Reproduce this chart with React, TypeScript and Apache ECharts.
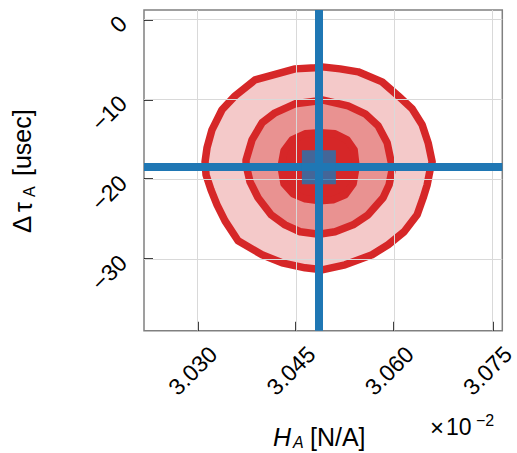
import React, { useEffect, useRef } from "react";
import * as echarts from "echarts";

// Axis ticks (H_A in units of 1e-2, Δτ_A in usec)
const xTicks = [3.03, 3.045, 3.06, 3.075];
const yTicks = [0, -10, -20, -30];

// Crosshair / true value
const truthX = 3.0485;
const truthY = -18.5;

// Contours (outer, middle, inner)
const outerX = [3.04792, 3.04899, 3.05174, 3.05449, 3.05815, 3.0606, 3.06273, 3.06426, 3.06518, 3.06579, 3.06548, 3.06503, 3.06442, 3.0635, 3.06151, 3.05907, 3.05662, 3.0525, 3.04899, 3.04639, 3.04288, 3.03982, 3.03616, 3.03417, 3.03295, 3.03203, 3.03127, 3.03112, 3.03142, 3.03218, 3.03371, 3.0357, 3.03875, 3.04181, 3.04486];
const outerY = [-6.05, -5.93, -6.18, -6.55, -7.81, -9.56, -11.19, -13.19, -15.45, -17.83, -18.83, -20.71, -22.34, -24.47, -26.6, -28.23, -29.48, -30.74, -31.37, -31.12, -30.49, -29.48, -27.73, -25.23, -23.22, -21.34, -19.46, -17.83, -16.08, -13.82, -11.31, -9.56, -7.56, -6.87, -6.18];

const middleX = [3.04792, 3.04899, 3.05296, 3.05556, 3.05754, 3.05892, 3.05953, 3.05968, 3.05922, 3.0583, 3.05601, 3.05372, 3.05097, 3.04899, 3.04792, 3.04563, 3.04333, 3.0412, 3.03921, 3.03799, 3.03738, 3.03738, 3.03829, 3.03982, 3.04181, 3.04486];
const middleY = [-10.25, -10.06, -10.81, -11.82, -13.32, -15.45, -17.83, -18.83, -20.71, -22.34, -24.47, -25.73, -26.6, -26.85, -26.85, -26.6, -25.73, -24.47, -22.34, -20.34, -18.21, -17.6, -15.08, -12.94, -11.69, -10.56];

const innerX = [3.04868, 3.05097, 3.05281, 3.05388, 3.05418, 3.05372, 3.0525, 3.05067, 3.04868, 3.04639, 3.04456, 3.04318, 3.04272, 3.04318, 3.0444, 3.04639];
const innerY = [-14.2, -14.32, -15.08, -16.33, -18.46, -20.59, -21.97, -22.59, -22.72, -22.47, -21.84, -20.59, -18.46, -16.45, -15.08, -14.32];

const contourFills = ["#f4c9c9", "#e99291", "#d62728"];
const contourXs = [outerX, middleX, innerX];
const contourYs = [outerY, middleY, innerY];

const FONT = "Liberation Sans, Arial, Helvetica, sans-serif";

const fmtY = (v: number) => (v < 0 ? "\u2212" + Math.abs(v) : String(v));

export default function App() {
  const ref = useRef<HTMLDivElement>(null);
  useEffect(() => {
    if (!ref.current) return;
    const chart = echarts.init(ref.current, null, { renderer: "svg" });
    chart.setOption({
      animation: false,
      backgroundColor: "#ffffff",
      grid: {
        left: 144,
        top: 10,
        right: 14.7,
        bottom: 122.3,
        show: true,
        borderColor: "#808080",
        borderWidth: 1.5,
        backgroundColor: "transparent",
        containLabel: false,
        outerBoundsMode: "none",
      },
      xAxis: {
        type: "value",
        min: 3.0218,
        max: 3.0765,
        axisLine: { show: false, onZero: false },
        splitLine: { show: false },
        axisTick: {
          show: true,
          inside: true,
          length: 9,
          customValues: xTicks,
          lineStyle: { color: "#000", width: 1.5 },
        },
        axisLabel: {
          customValues: xTicks,
          formatter: (v: number) => v.toFixed(3),
          rotate: 45,
          align: "center",
          verticalAlign: "middle",
          padding: [0, 14, 0, 0],
          margin: 35,
          fontSize: 23,
          fontFamily: FONT,
          color: "#000",
          hideOverlap: false,
        },
      },
      yAxis: {
        type: "value",
        min: -39,
        max: 1.2,
        axisLine: { show: false, onZero: false },
        splitLine: { show: false },
        axisTick: {
          show: true,
          inside: true,
          length: 9,
          customValues: yTicks,
          lineStyle: { color: "#000", width: 1.5 },
        },
        axisLabel: {
          customValues: yTicks,
          formatter: fmtY,
          rotate: 45,
          align: "right",
          verticalAlign: "middle",
          margin: 21,
          fontSize: 23,
          fontFamily: FONT,
          color: "#000",
          hideOverlap: false,
        },
      },
      series: [
        {
          type: "scatter",
          data: [[truthX, truthY]],
          symbolSize: 0,
          silent: true,
          z: 1,
          markLine: {
            silent: true,
            precision: 6,
            symbol: ["none", "none"],
            label: { show: false },
            lineStyle: { color: "#d9d9d9", width: 1, type: "solid" },
            data: [
              ...xTicks.map((v) => ({ xAxis: v })),
              ...yTicks.map((v) => ({ yAxis: v })),
            ],
          },
        },
        {
          type: "custom",
          z: 3,
          silent: true,
          data: contourXs.map((_, i) => [truthX, truthY, i]),
          encode: { x: 0, y: 1 },
          renderItem: (params: any, api: any) => {
            const i = params.dataIndex;
            const xs = contourXs[i];
            const ys = contourYs[i];
            const points = xs.map((x, k) => api.coord([x, ys[k]]));
            return {
              type: "polygon",
              shape: { points },
              style: {
                fill: contourFills[i],
                stroke: "#d62728",
                lineWidth: 7.5,
                lineJoin: "round",
              },
            };
          },
        },
        {
          type: "scatter",
          data: [[truthX, truthY]],
          symbol: "rect",
          symbolSize: 34,
          itemStyle: { color: "#1f77b4" },
          silent: true,
          z: 6,
          markLine: {
            silent: true,
            precision: 6,
            symbol: ["none", "none"],
            label: { show: false },
            lineStyle: { color: "#1f77b4", width: 8, type: "solid" },
            data: [{ xAxis: truthX }, { yAxis: truthY }],
          },
        },
      ],
      graphic: [
        // x axis title: H_A [N/A]
        {
          type: "text",
          left: 273,
          top: 424,
          style: { text: "H", fontSize: 25, fontStyle: "italic", fontFamily: FONT, fill: "#000" },
        },
        {
          type: "text",
          left: 293,
          top: 434,
          style: { text: "A", fontSize: 16, fontStyle: "italic", fontFamily: FONT, fill: "#000" },
        },
        {
          type: "text",
          left: 310,
          top: 424,
          style: { text: "[N/A]", fontSize: 25, fontFamily: FONT, fill: "#000" },
        },
        // offset text ×10^-2
        {
          type: "text",
          left: 430,
          top: 415,
          style: { text: "×", fontSize: 24, fontFamily: FONT, fill: "#000" },
        },
        {
          type: "text",
          left: 446,
          top: 415,
          style: { text: "10", fontSize: 23, fontFamily: FONT, fill: "#000" },
        },
        {
          type: "text",
          left: 476,
          top: 412,
          style: { text: "\u22122", fontSize: 16, fontFamily: FONT, fill: "#000" },
        },
        // y axis title: Δτ_A [usec], rotated
        {
          type: "group",
          x: 22,
          y: 233,
          rotation: Math.PI / 2,
          children: [
            {
              type: "text",
              x: 0,
              y: 0,
              style: {
                text: "Δ",
                fontSize: 26,
                fontFamily: FONT,
                fill: "#000",
                textAlign: "left",
                textVerticalAlign: "middle",
              },
            },
            {
              type: "text",
              x: 21,
              y: 1,
              style: {
                text: "τ",
                fontSize: 25,
                fontFamily: FONT,
                fill: "#000",
                textAlign: "left",
                textVerticalAlign: "middle",
              },
            },
            {
              type: "text",
              x: 36,
              y: 7,
              style: {
                text: "A",
                fontSize: 16,
                fontFamily: FONT,
                fill: "#000",
                textAlign: "left",
                textVerticalAlign: "middle",
              },
            },
            {
              type: "text",
              x: 57,
              y: 0,
              style: {
                text: "[usec]",
                fontSize: 25,
                fontFamily: FONT,
                fill: "#000",
                textAlign: "left",
                textVerticalAlign: "middle",
              },
            },
          ],
        },
      ],
    });
    return () => chart.dispose();
  }, []);
  return (
    <div
      ref={ref}
      style={{ position: "fixed", left: 0, top: 0, width: 517, height: 453 }}
    />
  );
}
